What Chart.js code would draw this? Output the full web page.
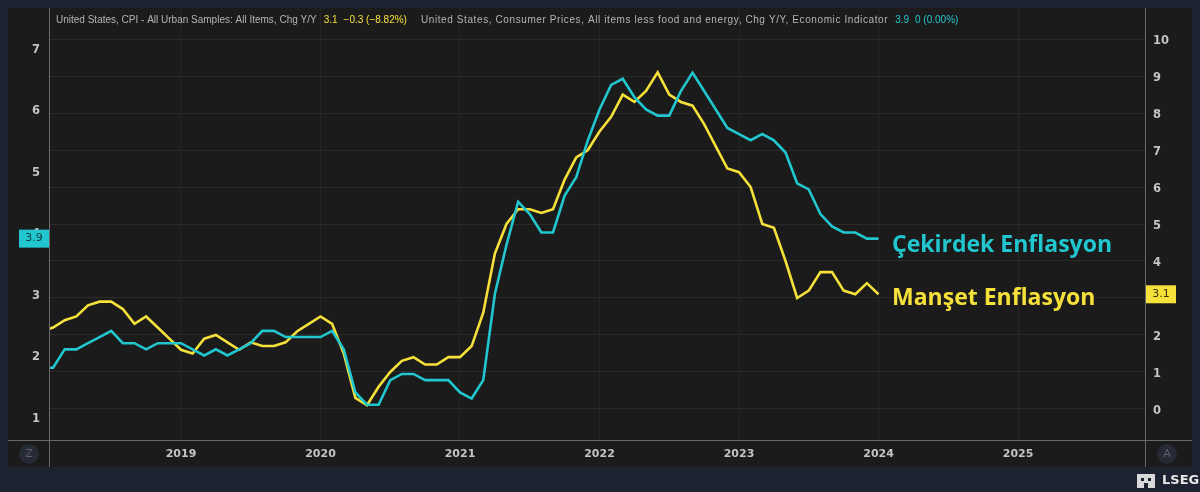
<!DOCTYPE html>
<html>
<head>
<meta charset="utf-8">
<script src="https://cdn.jsdelivr.net/npm/chart.js@4"></script>
<style>
  html, body { margin: 0; padding: 0; background: #1d2230; }
  #wrap { width: 1200px; height: 492px; }
</style>
</head>
<body>
<div id="wrap"><canvas id="chart" width="1200" height="492"></canvas></div>
<script>
// monthly points, Jan 2018 .. Jan 2024
const months = [
  '2018-01','2018-02','2018-03','2018-04','2018-05','2018-06','2018-07','2018-08','2018-09','2018-10','2018-11','2018-12',
  '2019-01','2019-02','2019-03','2019-04','2019-05','2019-06','2019-07','2019-08','2019-09','2019-10','2019-11','2019-12',
  '2020-01','2020-02','2020-03','2020-04','2020-05','2020-06','2020-07','2020-08','2020-09','2020-10','2020-11','2020-12',
  '2021-01','2021-02','2021-03','2021-04','2021-05','2021-06','2021-07','2021-08','2021-09','2021-10','2021-11','2021-12',
  '2022-01','2022-02','2022-03','2022-04','2022-05','2022-06','2022-07','2022-08','2022-09','2022-10','2022-11','2022-12',
  '2023-01','2023-02','2023-03','2023-04','2023-05','2023-06','2023-07','2023-08','2023-09','2023-10','2023-11','2023-12',
  '2024-01'
];
// headline CPI y/y (right axis)
const headline = [
  2.1,2.2,2.4,2.5,2.8,2.9,2.9,2.7,2.3,2.5,2.2,1.9,
  1.6,1.5,1.9,2.0,1.8,1.6,1.8,1.7,1.7,1.8,2.1,2.3,
  2.5,2.3,1.5,0.3,0.1,0.6,1.0,1.3,1.4,1.2,1.2,1.4,
  1.4,1.7,2.6,4.2,5.0,5.4,5.4,5.3,5.4,6.2,6.8,7.0,
  7.5,7.9,8.5,8.3,8.6,9.1,8.5,8.3,8.2,7.7,7.1,6.5,
  6.4,6.0,5.0,4.9,4.0,3.0,3.2,3.7,3.7,3.2,3.1,3.4,
  3.1
];
// core CPI y/y (left axis)
const core = [
  1.8,1.8,2.1,2.1,2.2,2.3,2.4,2.2,2.2,2.1,2.2,2.2,
  2.2,2.1,2.0,2.1,2.0,2.1,2.2,2.4,2.4,2.3,2.3,2.3,
  2.3,2.4,2.1,1.4,1.2,1.2,1.6,1.7,1.7,1.6,1.6,1.6,
  1.4,1.3,1.6,3.0,3.8,4.5,4.3,4.0,4.0,4.6,4.9,5.5,
  6.0,6.4,6.5,6.2,6.0,5.9,5.9,6.3,6.6,6.3,6.0,5.7,
  5.6,5.5,5.6,5.5,5.3,4.8,4.7,4.3,4.1,4.0,4.0,3.9,
  3.9
];
const leftTicks = [1, 2, 3, 4, 5, 6, 7];
const rightTicks = [0, 1, 2, 3, 4, 5, 6, 7, 8, 9, 10];
const yearTicks = [2019, 2020, 2021, 2022, 2023, 2024, 2025];

const CYAN = '#22c6cf';
const YELLOW = '#f6e03a';
const PANEL = '#1b1b1b';
const LINE = '#6a6a6a';

const toX = m => { const [y, mo] = m.split('-').map(Number); return y + (mo - 1) / 12; };
const headlinePts = months.map((m, i) => ({ x: toX(m), y: headline[i] }));
const corePts = months.map((m, i) => ({ x: toX(m), y: core[i] }));

const panel = {
  id: 'panel',
  beforeDraw(chart) {
    const c = chart.ctx;
    c.save();
    c.fillStyle = '#1d2230';
    c.fillRect(0, 0, 1200, 492);
    c.fillStyle = PANEL;
    c.fillRect(8, 8, 1184, 459);
    c.restore();
  },
  afterDraw(chart) {
    const c = chart.ctx;
    const a = chart.chartArea;
    const yl = chart.scales.yl, yr = chart.scales.yr;
    c.save();
    // axis frame lines
    c.strokeStyle = LINE;
    c.lineWidth = 1;
    c.beginPath();
    c.moveTo(Math.round(a.left) + 0.5, 8); c.lineTo(Math.round(a.left) + 0.5, 467);
    c.moveTo(Math.round(a.right) + 0.5, 8); c.lineTo(Math.round(a.right) + 0.5, 467);
    c.moveTo(8, Math.round(a.bottom) + 0.5); c.lineTo(1192, Math.round(a.bottom) + 0.5);
    c.stroke();

    // header legend
    c.font = '10px "Liberation Sans", sans-serif';
    c.textBaseline = 'middle';
    let x = 56; const ty = 20;
    const put = (t, col, gap, sp) => {
      c.letterSpacing = sp || '0px';
      c.fillStyle = col; c.fillText(t, x, ty); x += c.measureText(t).width + gap;
    };
    put('United States, CPI - All Urban Samples: All Items, Chg Y/Y', '#b4b4b4', 7);
    put('3.1', YELLOW, 6);
    put('\u22120.3 (\u22128.82%)', YELLOW, 14);
    put('United States, Consumer Prices, All items less food and energy, Chg Y/Y, Economic Indicator', '#b4b4b4', 7, '0.6px');
    put('3.9', CYAN, 6);
    put('0 (0.00%)', CYAN, 0);
    c.letterSpacing = '0px';

    // last value badges
    c.font = '11px "DejaVu Sans", sans-serif';
    c.textAlign = 'center';
    const yc = yl.getPixelForValue(core[core.length - 1]);
    c.fillStyle = CYAN;
    c.fillRect(19, yc - 9, 30, 18);
    c.fillStyle = '#0d3b3e';
    c.fillText('3.9', 34, yc);
    const yh = yr.getPixelForValue(headline[headline.length - 1]);
    c.fillStyle = YELLOW;
    c.fillRect(a.right + 1, yh - 9, 30, 18);
    c.fillStyle = '#3a3300';
    c.fillText('3.1', a.right + 16, yh);

    // series annotations
    c.textAlign = 'left';
    c.font = 'bold 23px "Open Sans", sans-serif';
    c.fillStyle = CYAN;
    c.fillText('Çekirdek Enflasyon', 892, 245);
    c.fillStyle = YELLOW;
    c.fillText('Manşet Enflasyon', 892, 298);

    // corner buttons
    c.font = '11px "DejaVu Sans", sans-serif';
    c.textAlign = 'center';
    [[29, 'Z'], [1167, 'A']].forEach(([bx, t]) => {
      c.fillStyle = '#262a35';
      c.beginPath(); c.arc(bx, 454, 10, 0, Math.PI * 2); c.fill();
      c.fillStyle = '#5a5f6b';
      c.fillText(t, bx, 454);
    });

    // LSEG mark
    c.fillStyle = '#e8e8e8';
    c.font = 'bold 13px "DejaVu Sans", sans-serif';
    c.textAlign = 'left';
    c.fillText('LSEG', 1162, 481);
    c.fillStyle = '#d8d8d8';
    c.fillRect(1137, 474, 18, 14);
    c.fillStyle = '#1d2230';
    c.fillRect(1141, 478, 3, 3); c.fillRect(1148, 478, 3, 3); c.fillRect(1144, 483, 4, 5);
    c.restore();
  }
};

const noPad = s => { s.paddingTop = 0; s.paddingBottom = 0; };

new Chart(document.getElementById('chart'), {
  type: 'line',
  data: {
    datasets: [
      { label: 'Core', data: corePts, yAxisID: 'yl', borderColor: CYAN, borderWidth: 2.6, pointRadius: 0, tension: 0 },
      { label: 'Headline', data: headlinePts, yAxisID: 'yr', borderColor: YELLOW, borderWidth: 2.6, pointRadius: 0, tension: 0 }
    ]
  },
  options: {
    responsive: false,
    animation: false,
    layout: { padding: { left: 8, right: 8, top: 8, bottom: 25 } },
    plugins: { legend: { display: false }, tooltip: { enabled: false } },
    scales: {
      x: {
        type: 'linear',
        min: 2018.054, max: 2025.91,
        afterFit: s => { s.height = 27; s.paddingLeft = 0; s.paddingRight = 0; },
        afterBuildTicks: s => { s.ticks = yearTicks.map(v => ({ value: v })); },
        ticks: { color: '#c4c4c4', font: { family: 'DejaVu Sans', size: 11, weight: 'bold' }, padding: 8, maxRotation: 0, callback: v => String(v) },
        grid: { color: '#262626', drawTicks: false },
        border: { display: false }
      },
      yl: {
        position: 'left',
        min: 0.626, max: 7.65,
        afterFit: s => { s.width = 41; noPad(s); },
        afterBuildTicks: s => { s.ticks = leftTicks.map(v => ({ value: v })); },
        ticks: { color: '#c4c4c4', font: { family: 'DejaVu Sans', size: 11.5, weight: 'bold' }, padding: 9, labelOffset: 2 },
        grid: { display: false, drawTicks: false },
        border: { display: false }
      },
      yr: {
        position: 'right',
        min: -0.84, max: 10.84,
        afterFit: s => { s.width = 47; noPad(s); },
        afterBuildTicks: s => { s.ticks = rightTicks.map(v => ({ value: v })); },
        ticks: { color: '#c4c4c4', font: { family: 'DejaVu Sans', size: 11.5, weight: 'bold' }, padding: 8, labelOffset: 2 },
        grid: { color: '#2a2a2a', drawTicks: false },
        border: { display: false }
      }
    }
  },
  plugins: [panel]
});
</script>
</body>
</html>
